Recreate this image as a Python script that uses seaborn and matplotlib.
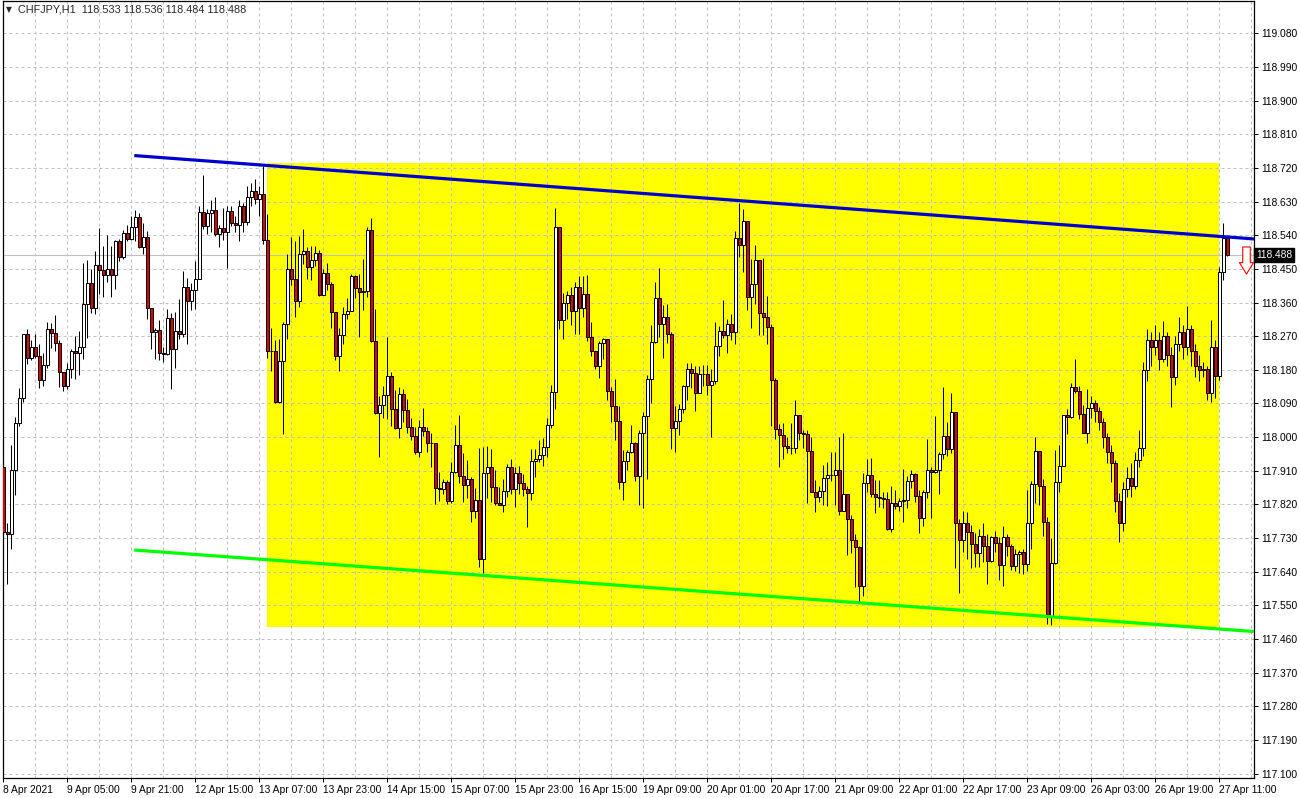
import numpy as np
import pandas as pd
import matplotlib
matplotlib.use("Agg")
import matplotlib.pyplot as plt
import matplotlib.transforms as mtransforms
from matplotlib.path import Path
from matplotlib.patches import Rectangle
import seaborn as sns

# ---------------- data (CHFJPY H1) ----------------
first_open = 117.921
close = [
117.747,117.742,117.912,118.037,118.104,118.275,118.211,118.242,118.218,118.153,
118.192,118.289,118.278,118.251,118.174,118.137,118.183,118.230,118.226,118.242,
118.356,118.412,118.345,118.460,118.448,118.433,118.450,118.433,118.525,118.482,
118.546,118.530,118.562,118.589,118.508,118.535,118.344,118.280,118.287,118.224,
118.222,118.318,118.235,118.283,118.277,118.402,118.363,118.393,118.423,118.602,
118.564,118.600,118.608,118.542,118.559,118.548,118.606,118.573,118.566,118.619,
118.575,118.642,118.658,118.637,118.651,118.528,118.230,118.231,118.093,118.204,
118.302,118.450,118.423,118.364,118.490,118.498,118.455,118.473,118.492,118.379,
118.439,118.409,118.334,118.218,118.273,118.329,118.337,118.431,118.399,118.387,
118.391,118.554,118.257,118.064,118.085,118.112,118.163,118.074,118.024,118.116,
118.073,118.026,118.004,117.961,118.028,118.017,117.985,117.983,117.865,117.862,
117.879,117.830,117.906,117.978,117.896,117.872,117.888,117.803,117.833,117.675,
117.903,117.919,117.867,117.824,117.819,117.857,117.919,117.860,117.903,117.878,
117.860,117.851,117.936,117.941,117.951,117.973,118.032,118.121,118.562,118.314,
118.358,118.381,118.338,118.401,118.345,118.383,118.267,118.229,118.189,118.251,
118.262,118.123,118.082,118.044,117.879,117.936,117.960,117.983,117.896,118.010,
118.057,118.155,118.254,118.372,118.302,118.321,118.276,118.024,118.042,118.074,
118.137,118.182,118.171,118.117,118.168,118.169,118.139,118.149,118.244,118.283,
118.273,118.303,118.280,118.533,118.514,118.578,118.375,118.409,118.474,118.332,
118.321,118.294,118.153,118.022,118.006,117.977,117.972,117.971,118.058,118.010,
118.008,117.964,117.854,117.841,117.857,117.890,117.900,117.899,117.912,117.803,
117.849,117.780,117.724,117.707,117.602,117.878,117.900,117.847,117.840,117.838,
117.835,117.753,117.825,117.817,117.829,117.832,117.882,117.901,117.843,117.784,
117.852,117.911,117.906,117.912,117.956,118.002,117.967,118.066,117.769,117.726,
117.769,117.745,117.713,117.691,117.736,117.709,117.669,117.732,117.717,117.659,
117.732,117.708,117.656,117.687,117.693,117.660,117.769,117.874,117.963,117.869,
117.772,117.521,117.664,117.879,117.924,118.058,118.055,118.133,118.124,118.061,
118.012,118.077,118.090,118.070,118.040,118.000,117.960,117.930,117.830,117.770,
117.860,117.890,117.870,117.940,117.970,118.180,118.260,118.240,118.260,118.210,
118.270,118.220,118.160,118.250,118.280,118.240,118.290,118.230,118.190,118.180,
118.182,118.118,118.242,118.163,118.442,118.533,118.488]
high = [
117.943,117.769,117.979,118.055,118.131,118.277,118.290,118.260,118.276,118.250,
118.224,118.309,118.305,118.327,118.260,118.171,118.199,118.235,118.271,118.284,
118.466,118.475,118.450,118.499,118.558,118.512,118.541,118.512,118.528,118.530,
118.555,118.566,118.592,118.608,118.600,118.573,118.552,118.345,118.291,118.314,
118.242,118.342,118.332,118.334,118.369,118.445,118.426,118.412,118.470,118.619,
118.700,118.610,118.635,118.642,118.568,118.613,118.617,118.617,118.592,118.635,
118.626,118.671,118.680,118.691,118.671,118.725,118.598,118.293,118.260,118.263,
118.307,118.490,118.535,118.524,118.537,118.557,118.508,118.510,118.510,118.501,
118.450,118.466,118.416,118.334,118.291,118.349,118.372,118.437,118.434,118.437,
118.477,118.561,118.586,118.342,118.110,118.137,118.269,118.174,118.126,118.135,
118.128,118.103,118.050,118.028,118.046,118.077,118.028,118.010,117.983,117.907,
117.888,117.885,117.934,118.033,118.059,117.957,117.939,117.894,117.863,117.970,
117.974,117.976,117.967,117.912,117.867,117.887,117.928,117.941,117.921,117.923,
117.901,117.869,117.968,117.967,117.992,117.997,118.051,118.139,118.614,118.559,
118.385,118.390,118.401,118.414,118.430,118.430,118.433,118.308,118.229,118.256,
118.264,118.251,118.135,118.155,118.083,117.966,117.966,118.032,117.988,118.019,
118.067,118.166,118.300,118.414,118.452,118.354,118.357,118.280,118.083,118.089,
118.140,118.199,118.199,118.189,118.191,118.192,118.192,118.182,118.308,118.298,
118.367,118.317,118.329,118.552,118.626,118.610,118.577,118.476,118.515,118.475,
118.480,118.378,118.303,118.157,118.035,118.037,118.001,118.037,118.099,118.048,
118.019,118.019,118.001,117.885,117.869,117.925,117.933,117.961,117.961,118.001,
118.010,117.848,117.791,117.742,117.708,117.903,117.942,117.945,117.885,117.885,
117.854,117.852,117.869,117.858,117.836,117.914,117.896,117.912,117.903,117.858,
117.858,117.994,117.919,118.057,117.961,118.135,118.041,118.117,118.064,117.780,
117.802,117.799,117.766,117.744,117.754,117.771,117.742,117.735,117.749,117.732,
117.762,117.742,117.715,117.702,117.698,117.702,117.858,117.882,117.999,117.964,
117.887,117.787,117.729,117.966,117.979,118.060,118.074,118.144,118.209,118.138,
118.085,118.129,118.110,118.100,118.080,118.050,118.010,117.980,117.940,117.850,
117.880,117.920,117.930,117.960,118.020,118.200,118.290,118.280,118.300,118.280,
118.310,118.280,118.240,118.270,118.320,118.300,118.350,118.300,118.250,118.220,
118.200,118.190,118.313,118.260,118.456,118.573,118.536]
low = [
117.733,117.608,117.702,117.845,118.030,118.095,118.195,118.207,118.211,118.131,
118.137,118.184,118.238,118.229,118.135,118.124,118.128,118.157,118.155,118.166,
118.208,118.264,118.333,118.329,118.384,118.376,118.416,118.374,118.396,118.470,
118.476,118.525,118.528,118.524,118.506,118.490,118.316,118.237,118.208,118.207,
118.202,118.220,118.128,118.186,118.263,118.269,118.249,118.341,118.342,118.423,
118.557,118.543,118.548,118.539,118.508,118.526,118.452,118.564,118.548,118.524,
118.548,118.568,118.617,118.624,118.591,118.516,118.211,118.177,118.091,118.091,
118.007,118.263,118.406,118.321,118.348,118.464,118.424,118.419,118.458,118.377,
118.405,118.394,118.291,118.205,118.178,118.248,118.317,118.339,118.371,118.267,
118.341,118.374,118.255,118.062,117.946,118.051,118.049,118.031,118.022,117.997,
118.041,118.010,117.992,117.955,117.948,118.003,117.959,117.919,117.821,117.830,
117.849,117.821,117.824,117.903,117.876,117.827,117.836,117.774,117.785,117.653,
117.637,117.838,117.827,117.818,117.818,117.800,117.839,117.849,117.814,117.848,
117.842,117.760,117.833,117.894,117.934,117.923,117.948,118.025,118.076,118.290,
118.262,118.316,118.299,118.276,118.276,118.321,118.257,118.217,118.183,118.159,
118.210,118.098,118.041,117.991,117.860,117.832,117.912,117.957,117.882,117.818,
117.811,117.888,118.092,118.251,118.269,118.211,118.251,117.968,117.961,118.006,
118.064,118.099,118.131,118.071,118.117,118.137,118.113,118.001,118.141,118.216,
118.264,118.224,118.260,118.248,118.483,118.441,118.339,118.291,118.355,118.274,
118.274,118.249,118.031,117.994,117.919,117.942,117.957,117.955,117.957,117.991,
117.970,117.824,117.852,117.800,117.827,117.818,117.815,117.882,117.818,117.791,
117.805,117.684,117.689,117.599,117.559,117.574,117.854,117.840,117.798,117.812,
117.811,117.751,117.745,117.809,117.802,117.774,117.811,117.863,117.827,117.744,
117.762,117.836,117.785,117.903,117.847,117.941,117.949,117.958,117.650,117.584,
117.693,117.673,117.649,117.653,117.653,117.666,117.606,117.666,117.693,117.617,
117.601,117.682,117.644,117.641,117.637,117.635,117.642,117.702,117.823,117.818,
117.735,117.501,117.497,117.660,117.854,117.922,118.008,118.051,118.117,118.049,
118.010,117.985,118.050,118.040,118.020,117.970,117.930,117.880,117.800,117.720,
117.750,117.840,117.840,117.860,117.920,117.950,118.150,118.190,118.220,118.180,
118.200,118.190,118.080,118.140,118.230,118.210,118.220,118.190,118.160,118.150,
118.160,118.100,118.095,118.105,118.153,118.420,118.484]

time_labels = ["8 Apr 2021", "9 Apr 05:00", "9 Apr 21:00", "12 Apr 15:00", "13 Apr 07:00",
               "13 Apr 23:00", "14 Apr 15:00", "15 Apr 07:00", "15 Apr 23:00", "16 Apr 15:00",
               "19 Apr 09:00", "20 Apr 01:00", "20 Apr 17:00", "21 Apr 09:00", "22 Apr 01:00",
               "22 Apr 17:00", "23 Apr 09:00", "26 Apr 03:00", "26 Apr 19:00", "27 Apr 11:00"]
label_every = 16          # bars between time labels
grid_every = 8            # bars between vertical grid lines
price_labels = ["117.100", "117.190", "117.280", "117.370", "117.460", "117.550", "117.640",
                "117.730", "117.820", "117.910", "118.000", "118.090", "118.180", "118.270",
                "118.360", "118.450", "118.540", "118.630", "118.720", "118.810", "118.900",
                "118.990", "119.080"]

# drawn objects (bar index, price)
rect_bars = (66, 304)
rect_prices = (117.493, 118.733)
blue_anchor_x = [32.75, 312.7]
blue_anchor_p = [118.753, 118.530]
green_anchor_x = [32.75, 312.7]
green_anchor_p = [117.698, 117.480]
bid_price = 118.488
sell_arrow = (310.7, 118.474)

# ---------------- figure ----------------
sns.set_style("white")
plt.rcParams['font.family'] = ['Liberation Sans', 'DejaVu Sans']

W, H = 1300, 798
fig = plt.figure(figsize=(W / 100, H / 100), dpi=100)
ax = fig.add_axes([2.7 / W, (H - 778) / H, (1254 - 2.7) / W, 777 / H])
ax.set_facecolor("white")

close = np.array(close)
high = np.array(high)
low = np.array(low)
opens = np.r_[first_open, close[:-1]]   # H1 forex bars open at the previous close
n = len(close)
idx = np.arange(n)
high = np.maximum(high, np.maximum(opens, close))
low = np.minimum(low, np.minimum(opens, close))

# yellow rectangle
ax.add_patch(Rectangle((rect_bars[0], rect_prices[0]), rect_bars[1] - rect_bars[0],
                       rect_prices[1] - rect_prices[0], facecolor="#ffff00",
                       edgecolor="none", zorder=0.1))

# bid line
ax.axhline(bid_price, color="#c0c0c0", lw=0.8, zorder=0.6)

# candles
up = close >= opens
body_bottom = np.minimum(opens, close)
body_h = np.abs(close - opens)
ax.vlines(idx, low, high, color="black", lw=0.75, zorder=3)
ax.bar(idx, body_h, bottom=body_bottom, width=0.72,
       color=np.where(up, "white", "#e00000"), edgecolor="black", linewidth=0.72, zorder=4)

# trend lines (rays extended to the right edge)
def ray(xs, ps, x_end):
    slope = (ps[1] - ps[0]) / (xs[1] - xs[0])
    return [xs[0], x_end], [ps[0], ps[0] + slope * (x_end - xs[0])]

bx, bp = ray(blue_anchor_x, blue_anchor_p, 314)
gx, gp = ray(green_anchor_x, green_anchor_p, 314)
tl = pd.DataFrame({"bar": bx + gx, "price": bp + gp,
                   "line": ["upper"] * 2 + ["lower"] * 2})
sns.lineplot(data=tl, x="bar", y="price", hue="line",
             palette={"upper": "#0000cd", "lower": "#00ff00"},
             lw=2.3, legend=False, ax=ax, zorder=5, solid_capstyle="butt")

# sell arrow marker
arrow_path = Path([(-0.14, 0.5), (0.14, 0.5), (0.14, -0.08), (0.26, -0.08), (0.0, -0.5),
                   (-0.26, -0.08), (-0.14, -0.08), (-0.14, 0.5)],
                  [Path.MOVETO] + [Path.LINETO] * 6 + [Path.CLOSEPOLY])
ax.plot([sell_arrow[0]], [sell_arrow[1]], marker=arrow_path, markersize=19.5,
        markerfacecolor="white", markeredgecolor="#ff0000", markeredgewidth=0.8,
        linestyle="none", zorder=6, clip_on=False)

# axes limits
ax.set_xlim(-0.15, 312.68)
ax.set_ylim(117.0883, 119.1664)

# ticks & grid
tick_pos = np.arange(len(time_labels)) * label_every
ax.set_xticks(tick_pos)
ax.set_xticklabels(time_labels, ha="left")
ax.set_xticks(np.arange(grid_every, 313, grid_every), minor=True)
price_vals = [float(p) for p in price_labels]
ax.set_yticks(price_vals)
ax.set_yticklabels(price_labels)
ax.yaxis.tick_right()
ax.tick_params(axis="x", which="major", length=3, width=0.72, pad=2, labelsize=7.4,
               color="black", labelcolor="black", direction="out", bottom=True)
ax.tick_params(axis="x", which="minor", length=0)
ax.tick_params(axis="y", length=3, width=0.72, pad=2, labelsize=7.4, color="black",
               labelcolor="black", direction="out", right=True, left=False,
               labelright=True, labelleft=False)
ax.set_axisbelow(True)
grid_kw = dict(color="#c0c0c0", lw=0.72, linestyle=(0, (3, 3)))
ax.grid(True, axis="y", which="major", **grid_kw)
ax.grid(True, axis="x", which="both", **grid_kw)
ax.set_xlabel("")
ax.set_ylabel("")
for s in ax.spines.values():
    s.set_color("black")
    s.set_linewidth(0.9)
    s.set_visible(True)

# current price tag
trans = mtransforms.blended_transform_factory(ax.transAxes, ax.transData)
ax.text(1.0018, close[-1], f"{close[-1]:.3f}", transform=trans, ha="left", va="center",
        fontsize=7.4, color="white", zorder=10,
        bbox=dict(boxstyle="square,pad=0.2", fc="black", ec="black"))

# header
fig.text(5.5 / W, 1 - 10 / H, "▼", fontsize=5.5, va="center", ha="left",
         family=["DejaVu Sans"])
fig.text(18.5 / W, 1 - 10 / H,
         f"CHFJPY,H1  {opens[-1]:.3f} {high[-1]:.3f} {low[-1]:.3f} {close[-1]:.3f}",
         fontsize=7.8, va="center", ha="left")

fig.savefig("out.png", dpi=100, facecolor="white")
